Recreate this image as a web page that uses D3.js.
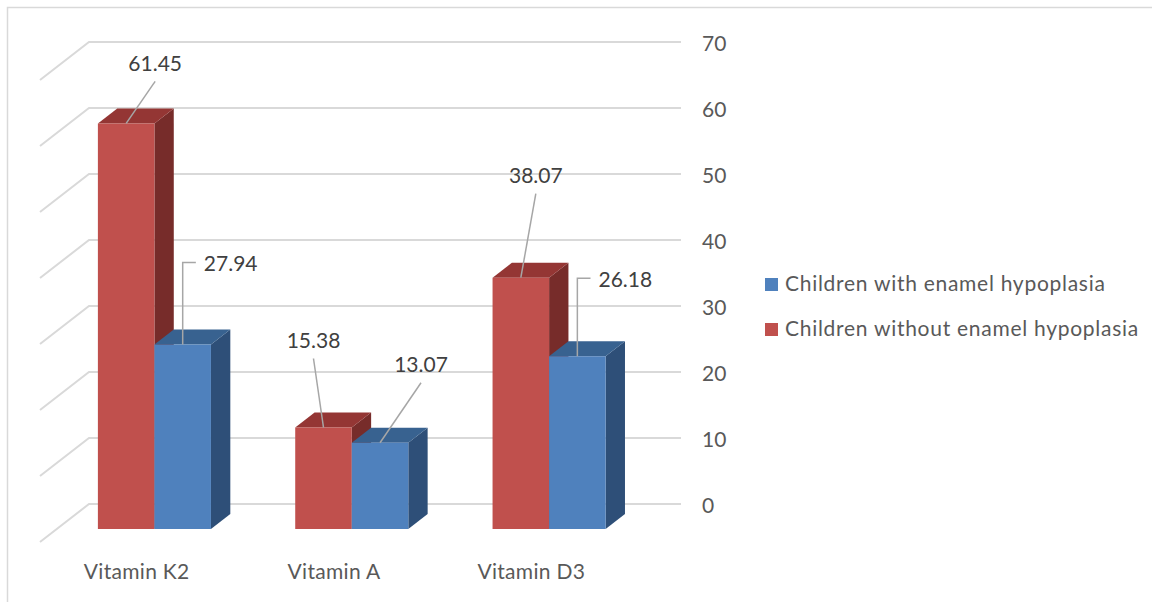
<!DOCTYPE html>
<html>
<head>
<meta charset="utf-8">
<script src="https://cdn.jsdelivr.net/npm/d3@7"></script>
<style>
  html, body { margin: 0; padding: 0; background: #fff; }
  svg { display: block; font-family: Lato, "Open Sans", sans-serif; }
</style>
</head>
<body>
<svg id="chart" width="1153" height="602"></svg>
<script>
// ---- data ----
const categories = ["Vitamin K2", "Vitamin A", "Vitamin D3"];
const seriesNames = ["Children without enamel hypoplasia", "Children with enamel hypoplasia"];
const withoutHypoplasia = [61.45, 15.38, 38.07];
const withHypoplasia = [27.94, 13.07, 26.18];
const tickValues = [0, 10, 20, 30, 40, 50, 60, 70];
const legendOrder = ["Children with enamel hypoplasia", "Children without enamel hypoplasia"];

// ---- layout / style config ----
const colors = {
  "Children without enamel hypoplasia": { front: "#C0504D", top: "#943634", side: "#772C2A" },
  "Children with enamel hypoplasia":    { front: "#4F81BD", top: "#386290", side: "#2E4F78" }
};
// label placement relative to bar's front-top centre: [dx, dy, elbow]
const labelNudges = {
  "Children without enamel hypoplasia": [[29, -60, false], [-10, -87, false], [15, -102, false]],
  "Children with enamel hypoplasia":    [[48, -81, true], [41, -78, false], [48, -77, true]]
};

const svg = d3.select("#chart");
const depthX = 49, depthY = 38;      // offset from front (z=0) to back wall (z=1)
const zFront = 0.342, zBack = 0.737; // bar depth

const y0 = d3.scaleLinear().domain([0, 70]).range([542, 542 - 462]);
const x0 = d3.scaleBand().domain(categories).range([39, 631]).paddingInner(0.427).paddingOuter(0.2135);
const xs = d3.scaleBand().domain(seriesNames).range([0, x0.bandwidth()]);

const P = (x, v, z) => [x + depthX * z, y0(v) - depthY * z];

// border (top & left)
svg.append("path")
  .attr("d", "M7.5,602 L7.5,7.5 L1152,7.5")
  .attr("fill", "none").attr("stroke", "#d9d9d9").attr("stroke-width", 1.5);

// back wall gridlines and side wall lines
const grid = svg.append("g").attr("stroke", "#d9d9d9").attr("stroke-width", 2).attr("fill", "none");
tickValues.forEach(t => {
  const a = P(40, t, 1), b = P(632, t, 1), c = P(40, t, 0);
  grid.append("path").attr("d", `M${c[0]},${c[1]} L${a[0]},${a[1]} L${b[0]},${b[1]}`);
});

// right axis labels
const axisG = svg.append("g").attr("fill", "#595959").attr("font-size", 21);
tickValues.forEach(t => {
  const b = P(632, t, 1);
  axisG.append("text").attr("x", b[0] + 21).attr("y", b[1] + 8.5).text(t);
});

// bars
const rows = categories.map((c, i) => ({
  cat: c,
  vals: [
    { s: seriesNames[0], v: withoutHypoplasia[i], i },
    { s: seriesNames[1], v: withHypoplasia[i], i }
  ]
}));
const barsG = svg.append("g");
rows.forEach(r => {
  r.vals.forEach(d => {
    const xl = x0(r.cat) + xs(d.s), xr = xl + xs.bandwidth();
    const col = colors[d.s];
    const ftl = P(xl, d.v, zFront), ftr = P(xr, d.v, zFront), fbr = P(xr, 0, zFront), fbl = P(xl, 0, zFront);
    const btl = P(xl, d.v, zBack), btr = P(xr, d.v, zBack), bbr = P(xr, 0, zBack);
    const poly = pts => "M" + pts.map(p => p.join(",")).join("L") + "Z";
    barsG.append("path").attr("d", poly([ftr, btr, bbr, fbr])).attr("fill", col.side);
    barsG.append("path").attr("d", poly([ftl, ftr, btr, btl])).attr("fill", col.top);
    barsG.append("path").attr("d", poly([ftl, ftr, fbr, fbl])).attr("fill", col.front);
    d.anchor = [(ftl[0] + ftr[0]) / 2, ftl[1]];
  });
});

// data labels with leader lines
const lblG = svg.append("g");
rows.forEach(r => {
  r.vals.forEach(d => {
    const [dx, dy, elbow] = labelNudges[d.s][d.i];
    const cx = d.anchor[0] + dx, cy = d.anchor[1] + dy;
    const txt = lblG.append("text").attr("x", cx).attr("y", cy + 7.5)
      .attr("text-anchor", "middle").attr("fill", "#404040").attr("font-size", 21)
      .text(d.v.toFixed(2));
    const bb = txt.node().getBBox();
    let path;
    if (elbow) {
      const ly = cy - 1;
      path = `M${bb.x - 8},${ly} L${d.anchor[0]},${ly} L${d.anchor[0]},${d.anchor[1]}`;
    } else {
      path = `M${cx},${cy + 18} L${d.anchor[0]},${d.anchor[1]}`;
    }
    lblG.insert("path", "text").attr("d", path).attr("fill", "none")
      .attr("stroke", "#a6a6a6").attr("stroke-width", 1.5);
  });
});

// category labels
const catG = svg.append("g").attr("fill", "#595959").attr("font-size", 21)
  .attr("text-anchor", "middle").attr("letter-spacing", 0.3);
categories.forEach(c => {
  catG.append("text").attr("x", x0(c) + x0.bandwidth() / 2 - 1).attr("y", 579).text(c);
});

// legend
const legG = svg.append("g").attr("font-size", 21).attr("fill", "#595959");
legendOrder.forEach((s, i) => {
  const yy = 278 + i * 45;
  legG.append("rect").attr("x", 765).attr("y", yy).attr("width", 13).attr("height", 13).attr("fill", colors[s].front);
  legG.append("text").attr("x", 785).attr("y", yy + 12.5).attr("letter-spacing", 0.72).text(s);
});
</script>
</body>
</html>
